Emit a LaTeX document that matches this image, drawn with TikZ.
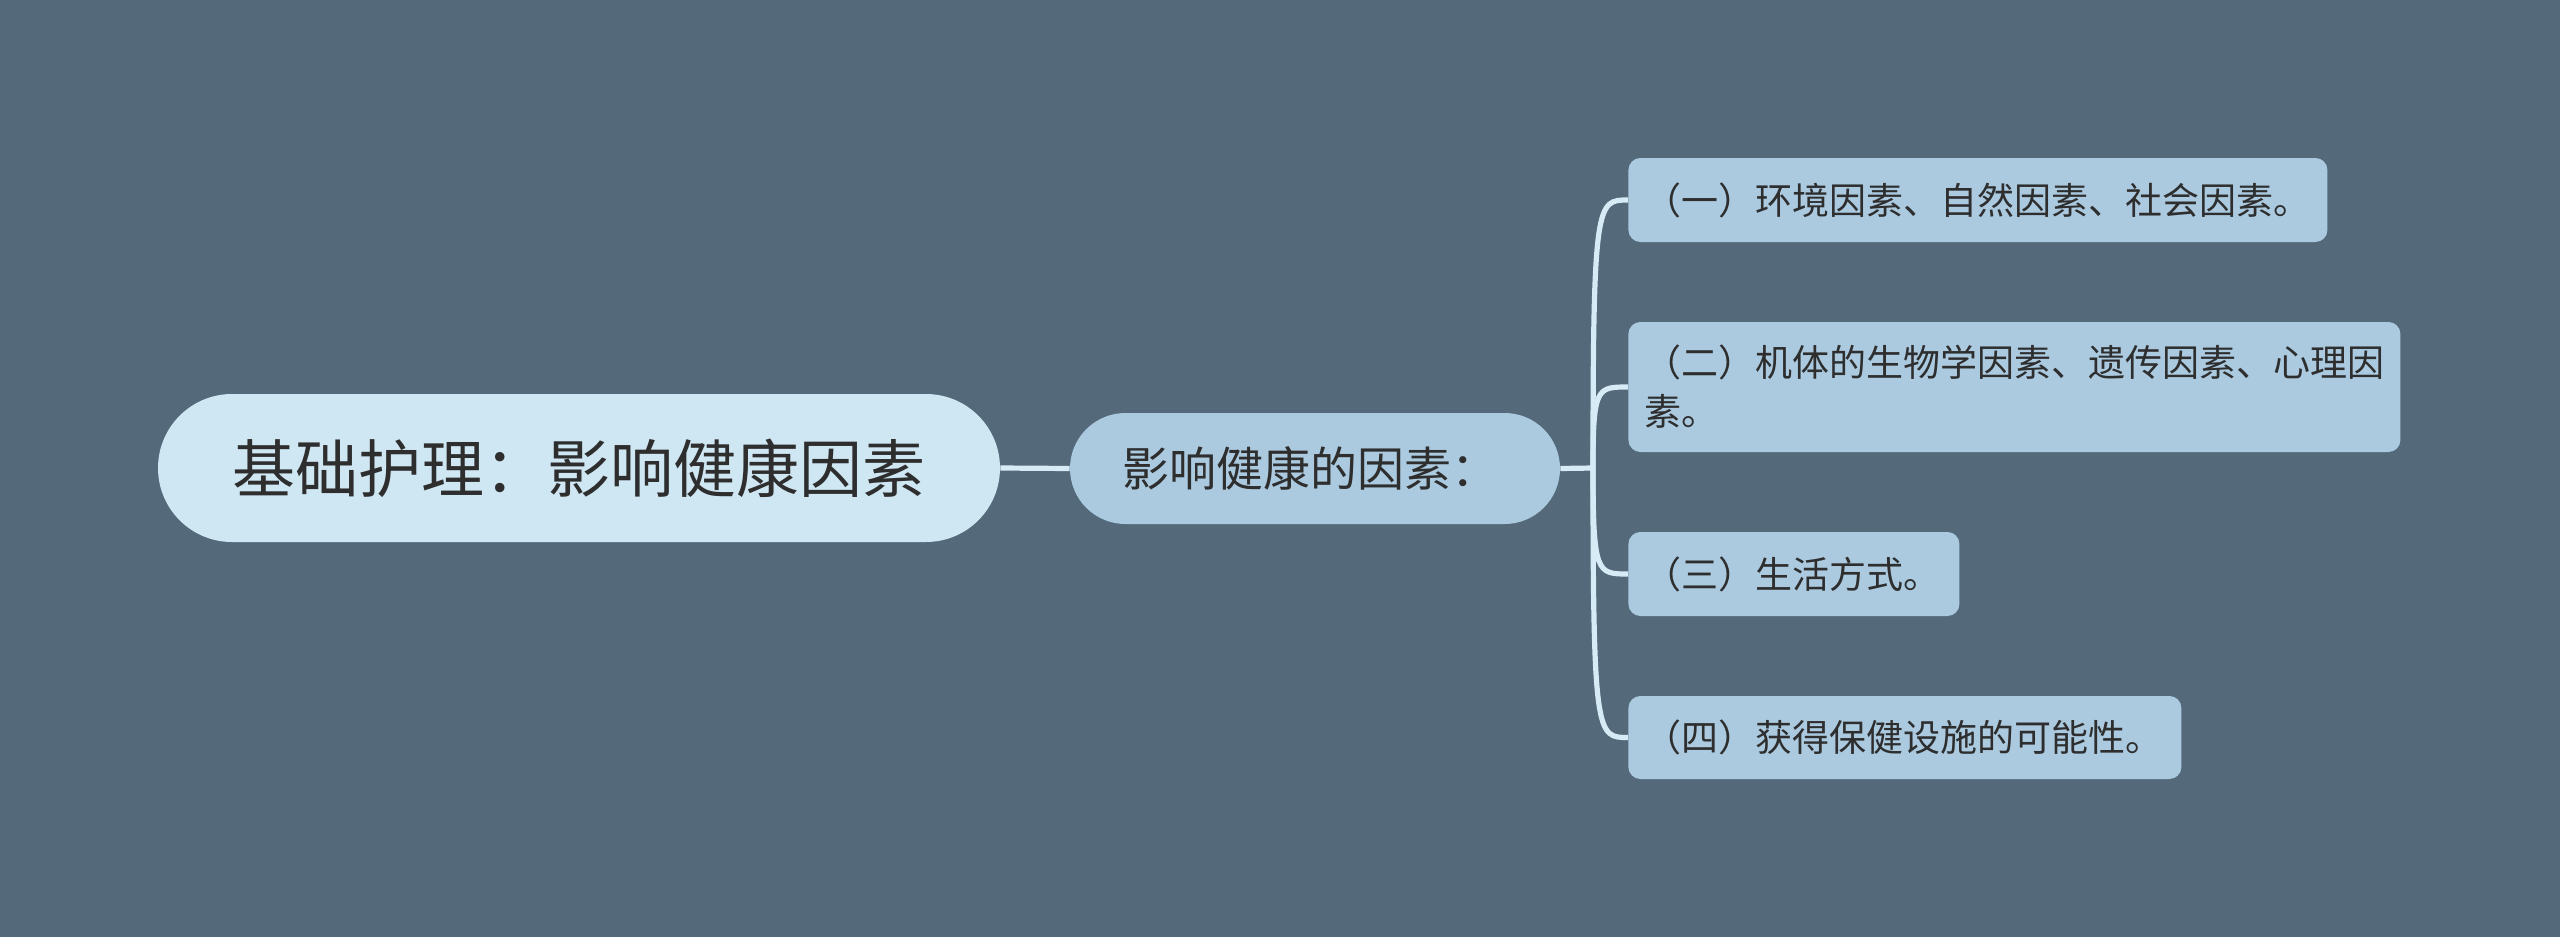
\documentclass[tikz,border=0pt]{standalone}
\usepackage{fontspec}
\setmainfont{Noto Sans CJK SC}
\definecolor{bg}{HTML}{546A7A}
\definecolor{rootfill}{HTML}{CFE6F3}
\definecolor{nodefill}{HTML}{ABCAE0}
\definecolor{linec}{HTML}{D7EBF6}
\definecolor{txt}{HTML}{2E2E2E}
\begin{document}
\begin{tikzpicture}[x=0.5pt,y=-0.5pt,
  rootbox/.style={fill=rootfill,rounded corners=37pt,minimum width=421pt,minimum height=74pt,inner sep=0pt,text=txt,font=\fontsize{31.5pt}{38pt}\selectfont},
  subbox/.style={fill=nodefill,rounded corners=27.7pt,minimum width=245pt,minimum height=55.5pt,inner xsep=26pt,inner ysep=0pt,text width=193pt,align=left,text=txt,font=\fontsize{23.5pt}{28pt}\selectfont},
  leafbox/.style={fill=nodefill,rounded corners=6pt,inner xsep=8pt,inner ysep=0pt,align=left,text=txt,anchor=west,font=\fontsize{18.5pt}{24.5pt}\selectfont},
  conn/.style={draw=linec,line width=2.6pt}
]
\fill[bg] (0,0) rectangle (2560,937);
\useasboundingbox (0,0) rectangle (2560,937);

\node[rootbox] (root) at (579,468) {基础护理：影响健康因素};
\node[subbox] (sub) at (1315,468.5) {影响健康的因素：};

\node[leafbox,text width=333.5pt,minimum height=42pt] (l1) at (1628,200) {（一）环境因素、自然因素、社会因素。};
\node[leafbox,text width=370pt,minimum height=65pt] (l2) at (1628,387) {（二）机体的生物学因素、遗传因素、心理因\\素。};
\node[leafbox,text width=149.5pt,minimum height=42pt] (l3) at (1628,574) {（三）生活方式。};
\node[leafbox,text width=260.5pt,minimum height=41.5pt] (l4) at (1628,737.5) {（四）获得保健设施的可能性。};

\coordinate (J) at (1593,468);
\draw[conn] (root.east) -- (sub.west);
\draw[conn] (sub.east) -- (J);
\draw[conn] (J) .. controls (1593,200) and (1597,200) .. (l1.west);
\draw[conn] (J) .. controls (1593,387) and (1597,387) .. (l2.west);
\draw[conn] (J) .. controls (1593,574) and (1597,574) .. (l3.west);
\draw[conn] (J) .. controls (1593,737.5) and (1597,737.5) .. (l4.west);
\end{tikzpicture}
\end{document}
